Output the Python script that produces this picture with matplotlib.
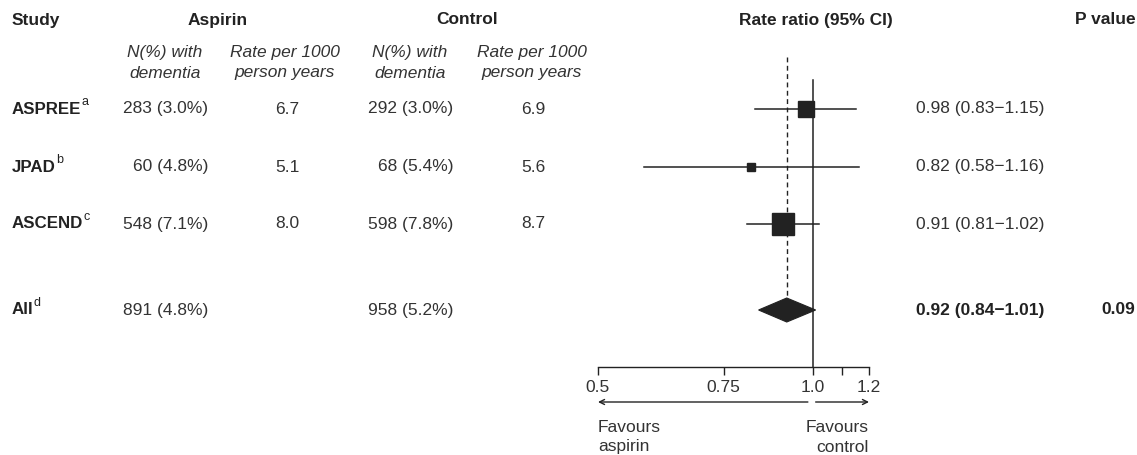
import matplotlib
matplotlib.use('Agg')
import matplotlib.pyplot as plt
from matplotlib.patches import Polygon
from matplotlib.ticker import FixedLocator, FixedFormatter, NullLocator

plt.rcParams['font.family'] = ['Liberation Sans', 'DejaVu Sans']

# ---------------- data ----------------
studies = ['ASPREE', 'JPAD', 'ASCEND', 'All']
study_notes = ['a', 'b', 'c', 'd']
aspirin_n = ['283 (3.0%)', '60 (4.8%)', '548 (7.1%)', '891 (4.8%)']
aspirin_rate = ['6.7', '5.1', '8.0', '']
control_n = ['292 (3.0%)', '68 (5.4%)', '598 (7.8%)', '958 (5.2%)']
control_rate = ['6.9', '5.6', '8.7', '']
rate_ratio = [0.98, 0.82, 0.91]
ci_low = [0.83, 0.58, 0.81]
ci_high = [1.15, 1.16, 1.02]
pooled_rr = 0.92
pooled_low = 0.84
pooled_high = 1.01
rr_labels = ['0.98 (0.83\u22121.15)', '0.82 (0.58\u22121.16)',
             '0.91 (0.81\u22121.02)', '0.92 (0.84\u22121.01)']
p_values = ['', '', '', '0.09']
axis_ticks = [0.5, 0.75, 1.0, 1.1, 1.2]
axis_tick_labels = ['0.5', '0.75', '1.0', '', '1.2']

# ---------------- layout / style ----------------
W, H = 1137, 455
row_y = [109, 167, 224, 310]
box_px = [16, 8, 23]
TXT = '#333333'
BLD = '#222222'
LINE = '#222222'
FS = 12.5

fig = plt.figure(figsize=(W / 100, H / 100), dpi=100)
tax = fig.add_axes([0, 0, 1, 1])
tax.set_xlim(0, W)
tax.set_ylim(H, 0)
tax.axis('off')

# headers
tax.text(12, 20, 'Study', fontsize=FS, fontweight='bold', color=BLD, ha='left', va='center')
tax.text(218, 20, 'Aspirin', fontsize=FS, fontweight='bold', color=BLD, ha='center', va='center')
tax.text(467, 20, 'Control', fontsize=FS, fontweight='bold', color=BLD, ha='center', va='center')
tax.text(816, 20, 'Rate ratio (95% CI)', fontsize=FS, fontweight='bold', color=BLD, ha='center', va='center')
tax.text(1075, 20, 'P value', fontsize=FS, fontweight='bold', color=BLD, ha='left', va='center')

sub_cols = [165, 285, 410, 532]
for xc in (sub_cols[0], sub_cols[2]):
    tax.text(xc, 53, 'N(%) with', fontsize=FS, style='italic', color=TXT, ha='center', va='center')
    tax.text(xc, 73, 'dementia', fontsize=FS, style='italic', color=TXT, ha='center', va='center')
for xc in (sub_cols[1], sub_cols[3]):
    tax.text(xc, 53, 'Rate per 1000', fontsize=FS, style='italic', color=TXT, ha='center', va='center')
    tax.text(xc, 73, 'person years', fontsize=FS, style='italic', color=TXT, ha='center', va='center')

# table rows
for i, y in enumerate(row_y):
    t = tax.text(12, y, studies[i], fontsize=FS - 0.3, fontweight='bold', color=BLD,
                 ha='left', va='center')
    tax.annotate(study_notes[i], xy=(1, 1), xycoords=t, xytext=(0, 4),
                 textcoords='offset points', fontsize=9, color=BLD, ha='left', va='top')
    tax.text(208, y, aspirin_n[i], fontsize=FS, color=TXT, ha='right', va='center')
    tax.text(287, y, aspirin_rate[i], fontsize=FS, color=TXT, ha='center', va='center')
    tax.text(453, y, control_n[i], fontsize=FS, color=TXT, ha='right', va='center')
    tax.text(533, y, control_rate[i], fontsize=FS, color=TXT, ha='center', va='center')
    last = (i == len(row_y) - 1)
    tax.text(916, y, rr_labels[i], fontsize=FS, color=BLD if last else TXT,
             fontweight='bold' if last else 'normal', ha='left', va='center')
    tax.text(1101, y, p_values[i], fontsize=FS, color=BLD, fontweight='bold',
             ha='left', va='center')

# ---------------- forest axes ----------------
x0, x1 = 598, 869
fax = fig.add_axes([x0 / W, 0, (x1 - x0) / W, 1])
fax.set_xscale('log')
fax.set_xlim(0.5, 1.2)
fax.set_ylim(H, 0)
fax.patch.set_alpha(0)
for s in ('top', 'left', 'right'):
    fax.spines[s].set_visible(False)
fax.spines['bottom'].set_position(('data', 367))
fax.spines['bottom'].set_color(LINE)
fax.spines['bottom'].set_linewidth(1.0)
fax.set_yticks([])
fax.xaxis.set_major_locator(FixedLocator(axis_ticks))
fax.xaxis.set_major_formatter(FixedFormatter(axis_tick_labels))
fax.xaxis.set_minor_locator(NullLocator())
fax.tick_params(axis='x', direction='out', length=6, width=1.0, color=LINE,
                labelsize=FS, labelcolor=TXT, pad=3)

# reference lines
fax.plot([1.0, 1.0], [80, 367], color=LINE, lw=1.1, clip_on=False)
fax.plot([pooled_rr, pooled_rr], [57, 298], color=LINE, lw=1.0, ls=(0, (3.5, 2.5)), clip_on=False)

# study estimates
for i in range(len(rate_ratio)):
    y = row_y[i]
    fax.plot([ci_low[i], ci_high[i]], [y, y], color=LINE, lw=1.1, clip_on=False)
    fax.plot([rate_ratio[i]], [y], marker='s', ms=box_px[i] * 0.72, color=LINE,
             mec=LINE, clip_on=False)

# pooled diamond
yp = row_y[3]
dia = Polygon([(pooled_low, yp), (pooled_rr, yp - 12), (pooled_high, yp),
               (pooled_rr, yp + 12)], closed=True, facecolor=LINE, edgecolor=LINE, lw=0.8)
fax.add_patch(dia)

# favours arrows
arrow_kw = dict(arrowstyle='->', color=LINE, lw=1.0, shrinkA=0, shrinkB=0,
                mutation_scale=9)
fax.annotate('', xy=(0.5, 402), xytext=(0.985, 402), xycoords='data', arrowprops=arrow_kw)
fax.annotate('', xy=(1.2, 402), xytext=(1.01, 402), xycoords='data', arrowprops=arrow_kw)
fax.text(0.5, 427, 'Favours', fontsize=FS, color=TXT, ha='left', va='center')
fax.text(0.5, 447, 'aspirin', fontsize=FS, color=TXT, ha='left', va='center')
fax.text(1.2, 427, 'Favours', fontsize=FS, color=TXT, ha='right', va='center')
fax.text(1.2, 447, 'control', fontsize=FS, color=TXT, ha='right', va='center')

fig.savefig('out.png', dpi=100)
